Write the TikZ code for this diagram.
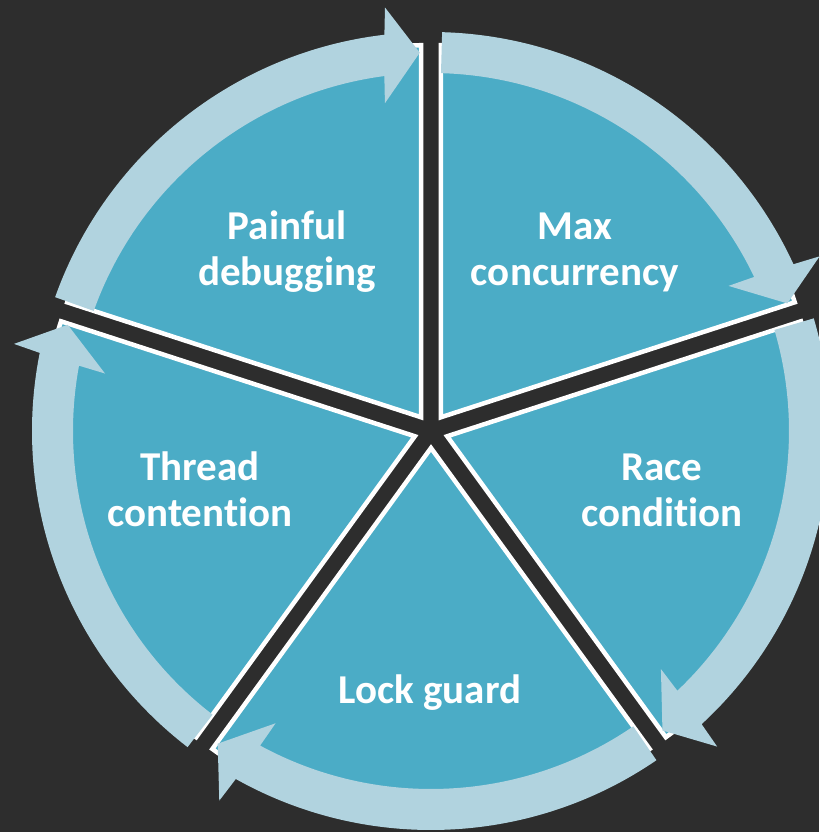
\documentclass[tikz,border=0pt]{standalone}
\usepackage{fontspec}
\setmainfont{Carlito}[Ligatures=NoCommon]
\definecolor{bgc}{HTML}{2D2D2D}
\definecolor{seg}{HTML}{4BACC6}
\definecolor{band}{HTML}{B1D3DF}
\begin{document}
\begin{tikzpicture}[x=1pt,y=1pt,
  wedge/.style={fill=seg, draw=white, line width=4.5pt},
  cyc/.style={fill=band},
  lbl/.style={text=white, font=\fontsize{41}{46}\selectfont\bfseries, align=center, anchor=base, inner sep=0pt}]
\fill[bgc] (-431,-401) rectangle (388,431);
\useasboundingbox (-431,-401) rectangle (388,431);
% pie segments
\foreach \b in {90,18,-54,-126,-198}{
  \pgfmathsetmacro\Be{\b-72}
  \pgfmathsetmacro\Bm{\b-36}
  \filldraw[wedge] (\Bm:17) -- ++(\b:372) arc[start angle=\b, end angle=\Be, radius=372] -- cycle;
}
% circular arrows
\foreach \b in {90,18,-54,-126,-198}{
  \pgfmathsetmacro\As{\b-1.6}
  \pgfmathsetmacro\At{\b-70.3}
  \pgfmathsetmacro\Ao{\At+5.01}
  \pgfmathsetmacro\Ai{\At+5.79}
  \pgfmathsetmacro\Ho{\At+4.5}
  \pgfmathsetmacro\Hi{\At+6.3}
  \fill[cyc] (\As:399) arc[start angle=\As, end angle=\Ao, radius=399] -- (\Ho:426) -- (\At:378.5) -- (\Hi:331) -- (\Ai:358) arc[start angle=\Ai, end angle=\As, radius=358] -- cycle;
}
% labels (anchor = baseline of last line)
\node[lbl] (pd) at (-144,145) {Painful\\debugging};
\node[lbl] (mc) at (144,145) {Max\\concurrency};
\node[lbl] (tc) at (-231,-95) {Thread\\contention};
\node[lbl] (rc) at (231,-95) {Race\\condition};
\node[lbl] (lg) at (-1,-272) {Lock guard};
\end{tikzpicture}
\end{document}
